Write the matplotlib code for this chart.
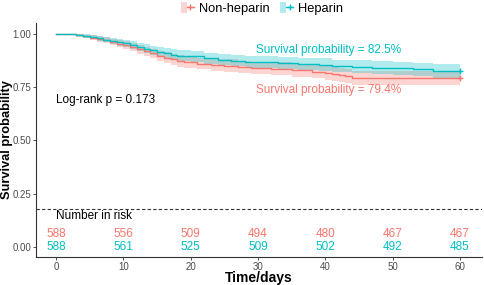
import matplotlib
matplotlib.use("Agg")
import matplotlib.pyplot as plt
import numpy as np
from matplotlib.legend_handler import HandlerTuple
from matplotlib.lines import Line2D
from matplotlib.patches import Patch

# Kaplan-Meier step points
red_t = [0, 2, 3, 4, 5, 6, 7, 8, 9, 10, 11, 12, 13, 14, 15, 16, 17, 18, 19, 21, 23, 25,
         27, 29, 32, 35, 38, 40, 41, 42, 43, 44, 60]
red_s = [1.0, 0.997, 0.992, 0.987, 0.981, 0.975, 0.968, 0.961, 0.953, 0.946, 0.937, 0.927,
         0.917, 0.907, 0.897, 0.888, 0.879, 0.871, 0.866, 0.860, 0.855, 0.850, 0.845, 0.840,
         0.835, 0.829, 0.822, 0.816, 0.811, 0.806, 0.800, 0.794, 0.794]
red_hw = [0.0, 0.004, 0.007, 0.009, 0.011, 0.013, 0.014, 0.016, 0.017, 0.018, 0.020, 0.021,
          0.022, 0.023, 0.024, 0.025, 0.026, 0.027, 0.027, 0.028, 0.028, 0.029, 0.029, 0.029,
          0.030, 0.030, 0.031, 0.031, 0.032, 0.032, 0.032, 0.033, 0.033]

teal_t = [0, 2, 3, 4, 5, 6, 7, 8, 9, 10, 11, 12, 13, 14, 15, 16, 17, 18, 20, 22, 24, 26,
          28, 30, 33, 36, 39, 41, 44, 47, 50, 53, 56, 60]
teal_s = [1.0, 0.997, 0.993, 0.989, 0.984, 0.978, 0.972, 0.966, 0.960, 0.954, 0.946, 0.938,
          0.930, 0.922, 0.915, 0.908, 0.902, 0.897, 0.893, 0.885, 0.878, 0.873, 0.869, 0.866,
          0.862, 0.858, 0.855, 0.849, 0.845, 0.841, 0.837, 0.832, 0.825, 0.825]
teal_hw = [0.0, 0.004, 0.006, 0.008, 0.010, 0.012, 0.013, 0.015, 0.016, 0.017, 0.018, 0.020,
           0.021, 0.022, 0.023, 0.023, 0.024, 0.025, 0.025, 0.026, 0.027, 0.027, 0.028, 0.028,
           0.028, 0.029, 0.029, 0.029, 0.030, 0.030, 0.030, 0.031, 0.031, 0.031]

risk_times = [0, 10, 20, 30, 40, 50, 60]
risk_red = [588, 556, 509, 494, 480, 467, 467]
risk_teal = [588, 561, 525, 509, 502, 492, 485]

RED = "#F8766D"
TEAL = "#00BFC4"
plt.rcParams["font.family"] = ["Liberation Sans", "DejaVu Sans"]

fig = plt.figure(figsize=(4.84, 2.85), dpi=100)
ax = fig.add_axes([36 / 484, 1 - 256.7 / 285, 446 / 484, 233.7 / 285])

for t, s, hw, col in [(red_t, red_s, red_hw, RED), (teal_t, teal_s, teal_hw, TEAL)]:
    t = np.array(t)
    s = np.array(s)
    hw = np.array(hw)
    ax.fill_between(t, s - hw, np.minimum(s + hw, 1.0), step="post", color=col,
                    alpha=0.3, linewidth=0)
    ax.step(t, s, where="post", color=col, linewidth=1.0)
    ax.plot(t[-1], s[-1], marker="+", color=col, markersize=5, markeredgewidth=1)

ax.axhline(0.178, color="#333333", linestyle=(0, (3, 2)), linewidth=0.8)

ax.text(0, 0.69, "Log-rank p = 0.173", fontsize=8.5, ha="left", va="center")
ax.text(29.7, 0.925, "Survival probability = 82.5%", color=TEAL, fontsize=8.5,
        ha="left", va="center")
ax.text(29.7, 0.737, "Survival probability = 79.4%", color=RED, fontsize=8.5,
        ha="left", va="center")
ax.text(0, 0.147, "Number in risk", fontsize=8.5, ha="left", va="center")
for x, r, g in zip(risk_times, risk_red, risk_teal):
    ax.text(x, 0.061, str(r), color=RED, fontsize=8.5, ha="center", va="center")
    ax.text(x, 0.0, str(g), color=TEAL, fontsize=8.5, ha="center", va="center")

ax.set_xlim(-3, 63.3)
ax.set_ylim(-0.046, 1.05)
ax.set_xticks(risk_times)
ax.set_yticks([0, 0.25, 0.5, 0.75, 1.0])
ax.set_yticklabels(["0.00", "0.25", "0.50", "0.75", "1.00"])
ax.tick_params(labelsize=7, labelcolor="#4d4d4d", color="#333333", length=2.5,
               width=0.6, pad=1)
for side in ["top", "right"]:
    ax.spines[side].set_visible(False)
for side in ["left", "bottom"]:
    ax.spines[side].set_color("#333333")
    ax.spines[side].set_linewidth(0.8)

ax.set_xlabel("Time/days", fontsize=10, fontweight="bold", va="center")
ax.xaxis.set_label_coords(0.5, (256.7 - 278) / 233.7)
ax.set_ylabel("Survival probability", fontsize=9.3, fontweight="bold", va="center")
ax.yaxis.set_label_coords((7.5 - 36) / 446, 0.5)

handles = []
for col in [RED, TEAL]:
    handles.append((Patch(facecolor=col, alpha=0.3, edgecolor="none"),
                    Line2D([], [], color=col, marker="+", markersize=5, linewidth=1)))
fig.legend(handles, ["Non-heparin", "Heparin"], loc="upper center",
           bbox_to_anchor=(0.541, 1.035), ncol=2, frameon=False, fontsize=9.3,
           handlelength=1.0, handleheight=1.0, handletextpad=0.4, columnspacing=0.8,
           handler_map={tuple: HandlerTuple(ndivide=None, pad=0)})

fig.savefig("out.png", dpi=100)
